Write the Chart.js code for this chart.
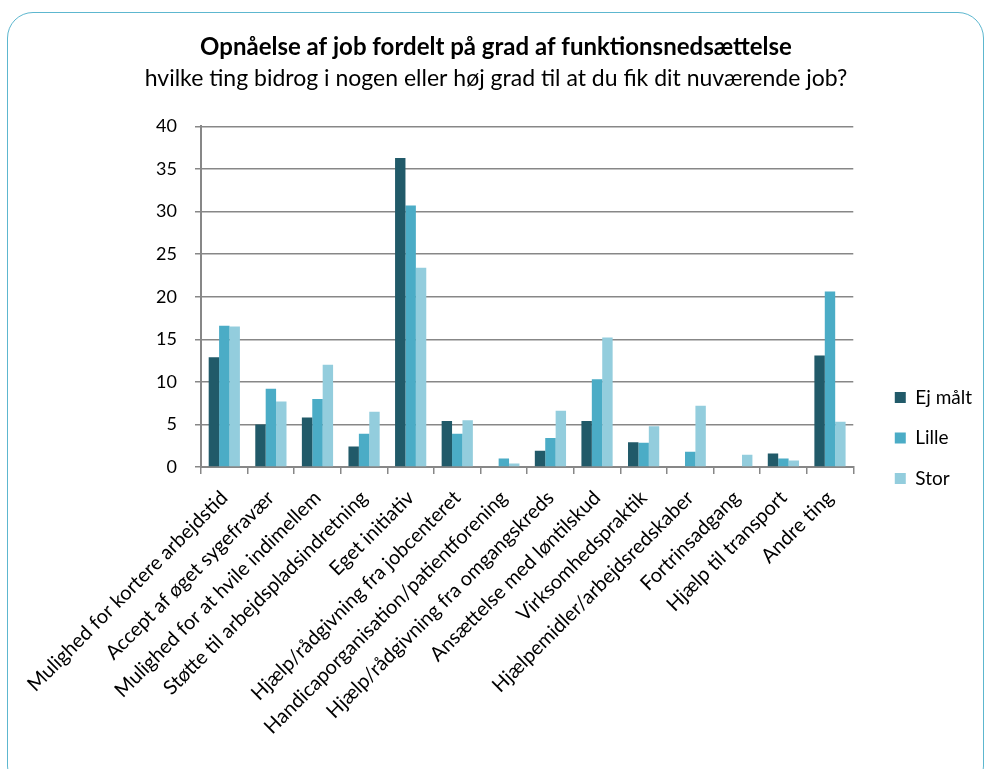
<!DOCTYPE html>
<html>
<head>
<meta charset="utf-8">
<script src="https://cdn.jsdelivr.net/npm/chart.js@4/dist/chart.umd.min.js"></script>
<style>
  html, body { margin: 0; padding: 0; background: #fff; }
  #wrap { position: relative; width: 989px; height: 769px; }
  #frame {
    position: absolute; left: 7px; top: 12px; width: 977px; height: 780px;
    border: 1.5px solid #5db7cf; border-radius: 26px; box-sizing: border-box;
  }
  canvas { position: absolute; left: 0; top: 0; }
</style>
</head>
<body>
<div id="wrap">
  <div id="frame"></div>
  <canvas id="jobChart" width="989" height="769"></canvas>
</div>
<script>
const categories = [
  'Mulighed for kortere arbejdstid',
  'Accept af øget sygefravær',
  'Mulighed for at hvile indimellem',
  'Støtte til arbejdspladsindretning',
  'Eget initiativ',
  'Hjælp/rådgivning fra jobcenteret',
  'Handicaporganisation/patientforening',
  'Hjælp/rådgivning fra omgangskreds',
  'Ansættelse med løntilskud',
  'Virksomhedspraktik',
  'Hjælpemidler/arbejdsredskaber',
  'Fortrinsadgang',
  'Hjælp til transport',
  'Andre ting'
];
const ejMaalt = [12.9, 5.0, 5.8, 2.4, 36.3, 5.4, 0, 1.9, 5.4, 2.9, 0, 0, 1.6, 13.1];
const lille   = [16.6, 9.2, 8.0, 3.9, 30.7, 3.9, 1.0, 3.4, 10.3, 2.85, 1.8, 0, 1.0, 20.6];
const stor    = [16.5, 7.7, 12.0, 6.5, 23.4, 5.5, 0.4, 6.6, 15.2, 4.8, 7.2, 1.45, 0.75, 5.3];
const yTicks = [0, 5, 10, 15, 20, 25, 30, 35, 40];

const FONT = 'Lato, "Open Sans", sans-serif';
const GRID = '#878787';

new Chart(document.getElementById('jobChart').getContext('2d'), {
  type: 'bar',
  data: {
    labels: categories,
    datasets: [
      { label: 'Ej målt', data: ejMaalt, backgroundColor: '#215a69' },
      { label: 'Lille', data: lille, backgroundColor: '#4bacc6' },
      { label: 'Stor', data: stor, backgroundColor: '#93cddd' }
    ]
  },
  options: {
    responsive: false,
    animation: false,
    layout: { padding: { left: 10, right: 7, top: 0, bottom: 0 } },
    datasets: { bar: { categoryPercentage: 0.67, barPercentage: 1.0 } },
    plugins: {
      title: {
        display: true,
        text: 'Opnåelse af job fordelt på grad af funktionsnedsættelse',
        color: '#000',
        font: { family: FONT, size: 24, weight: 'bold' },
        padding: { top: 33, bottom: 3 }
      },
      subtitle: {
        display: true,
        text: 'hvilke ting bidrog i nogen eller høj grad til at du fik dit nuværende job?',
        color: '#000',
        font: { family: FONT, size: 23 },
        padding: { top: 0, bottom: 34 }
      },
      legend: {
        position: 'right',
        align: 'center',
        title: { display: true, text: ' ', font: { size: 10 }, padding: { top: 0, bottom: 95 } },
        labels: {
          color: '#000',
          font: { family: FONT, size: 19 },
          boxWidth: 11, boxHeight: 11,
          padding: 21.5
        }
      },
      tooltip: { enabled: false }
    },
    scales: {
      x: {
        offset: true,
        grid: { display: true, drawOnChartArea: false, drawTicks: true, tickLength: 7, color: GRID, lineWidth: 1.5, offset: true },
        border: { color: GRID, width: 2 },
        ticks: {
          color: '#000', font: { family: FONT, size: 20 },
          maxRotation: 45, minRotation: 45, autoSkip: false, padding: 12
        },
        afterFit: (scale) => { scale.height = 302; }
      },
      y: {
        min: 0, max: 40,
        afterBuildTicks: (scale) => { scale.ticks = yTicks.map(v => ({ value: v })); },
        grid: { color: GRID, lineWidth: 1.5, tickLength: 6 },
        border: { color: GRID, width: 2 },
        ticks: { color: '#000', font: { family: FONT, size: 18 }, padding: 18 },
        afterFit: (scale) => { scale.width = 191; }
      },
      // empty spacer on the right, keeps the legend clear of the plot
      gap: {
        position: 'right', min: 0, max: 1,
        grid: { display: false }, border: { display: false },
        ticks: { display: false },
        afterFit: (scale) => { scale.width = 20; }
      }
    }
  }
});
</script>
</body>
</html>
